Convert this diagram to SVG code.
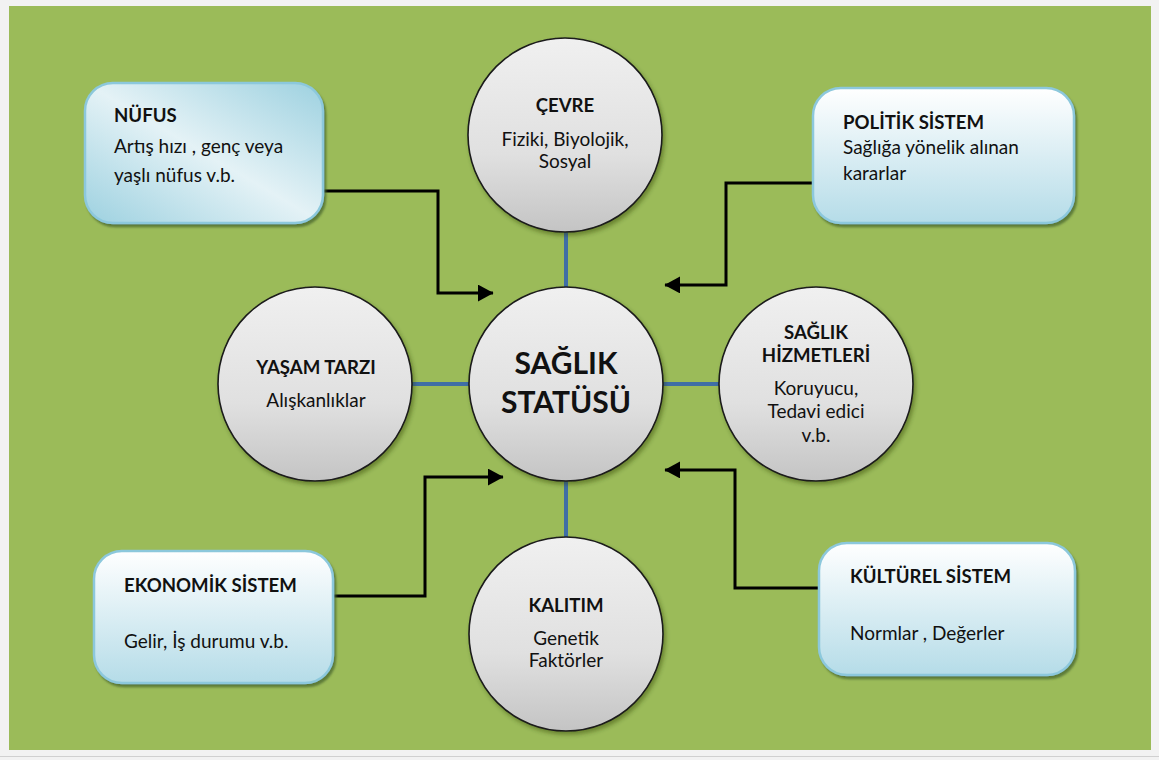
<svg xmlns="http://www.w3.org/2000/svg" width="1159" height="760" viewBox="0 0 1159 760">
<style>
.t{font-family:Lato,"Open Sans","Liberation Sans",sans-serif;font-size:19px;fill:#111}
.b{font-weight:bold;font-size:18.6px}
.c{text-anchor:middle}
.big{font-size:30px;font-weight:bold}
.circ{fill:url(#gc);stroke:#1a1a1a;stroke-width:1.6;filter:url(#sh)}
.box{stroke:#8cc8dc;stroke-width:2.5;filter:url(#bsh)}
.blue{stroke:#3f6ea6;stroke-width:4;fill:none}
.arr{stroke:#000;stroke-width:3;fill:none;marker-end:url(#ah)}
</style>
<defs>
<linearGradient id="gc" x1="0" y1="0" x2="0" y2="1">
<stop offset="0" stop-color="#f0f0f0"/>
<stop offset="0.6" stop-color="#e0e0e0"/>
<stop offset="1" stop-color="#c4c4c4"/>
</linearGradient>
<linearGradient id="gv" x1="0" y1="0" x2="0" y2="1">
<stop offset="0" stop-color="#ffffff"/>
<stop offset="1" stop-color="#b5dce8"/>
</linearGradient>
<linearGradient id="gd" x1="1" y1="0" x2="0" y2="1">
<stop offset="0" stop-color="#9dd1e0"/>
<stop offset="0.5" stop-color="#e4f2f6"/>
<stop offset="1" stop-color="#9dd1e0"/>
</linearGradient>
<filter id="sh" x="-20%" y="-20%" width="140%" height="140%">
<feDropShadow dx="2" dy="3" stdDeviation="2" flood-color="#2f3f10" flood-opacity="0.45"/>
</filter>
<filter id="bsh" x="-10%" y="-10%" width="120%" height="130%">
<feDropShadow dx="2" dy="3" stdDeviation="1" flood-color="#4d6b2e" flood-opacity="0.8"/>
</filter>
<marker id="ah" markerWidth="6" markerHeight="6" refX="5" refY="2.8" orient="auto" markerUnits="strokeWidth">
<path d="M0,0 L5.2,2.8 L0,5.6 Z" fill="#000"/>
</marker>
</defs>
<rect x="0" y="0" width="1159" height="760" fill="#f2f2f2"/>
<rect x="9" y="6" width="1142" height="744" fill="#9bbb59"/>
<line x1="0" y1="756.5" x2="1159" y2="756.5" stroke="#d0d0d0" stroke-width="1"/>

<g id="connectors">
<line class="blue" x1="566" y1="230" x2="566" y2="290"/>
<line class="blue" x1="566" y1="478" x2="566" y2="540"/>
<line class="blue" x1="410" y1="384" x2="472" y2="384"/>
<line class="blue" x1="660" y1="384" x2="722" y2="384"/>
<path class="arr" d="M323,191 H438 V293 H493"/>
<path class="arr" d="M814,183 H726 V285 H665"/>
<path class="arr" d="M332,596 H425 V477 H503"/>
<path class="arr" d="M819,588 H735 V470 H665"/>
</g>

<g id="nufus">
<rect class="box" x="85" y="83" width="238" height="140" rx="28" fill="url(#gd)"/>
<text class="t b" x="114" y="122">NÜFUS</text>
<text class="t" x="114" y="153">Artış hızı , genç veya</text>
<text class="t" x="114" y="182">yaşlı nüfus v.b.</text>
</g>

<g id="politik">
<rect class="box" x="813" y="88" width="261" height="135" rx="28" fill="url(#gv)"/>
<text class="t b" x="843" y="129">POLİTİK SİSTEM</text>
<text class="t" x="843" y="154">Sağlığa yönelik alınan</text>
<text class="t" x="843" y="180">kararlar</text>
</g>

<g id="ekonomik">
<rect class="box" x="94" y="551" width="239" height="132" rx="28" fill="url(#gv)"/>
<text class="t b" x="124" y="592">EKONOMİK SİSTEM</text>
<text class="t" x="124" y="648">Gelir, İş durumu v.b.</text>
</g>

<g id="kulturel">
<rect class="box" x="819" y="543" width="256" height="132" rx="28" fill="url(#gv)"/>
<text class="t b" x="850" y="583">KÜLTÜREL SİSTEM</text>
<text class="t" x="850" y="640">Normlar , Değerler</text>
</g>

<g id="cevre">
<circle class="circ" cx="565" cy="135" r="97"/>
<text class="t b c" x="565" y="112">ÇEVRE</text>
<text class="t c" x="565" y="146">Fiziki, Biyolojik,</text>
<text class="t c" x="565" y="168">Sosyal</text>
</g>

<g id="yasam">
<circle class="circ" cx="315" cy="384" r="97"/>
<text class="t b c" x="316" y="374">YAŞAM TARZI</text>
<text class="t c" x="316" y="407">Alışkanlıklar</text>
</g>

<g id="hizmet">
<circle class="circ" cx="816" cy="384" r="97"/>
<text class="t b c" x="816" y="339">SAĞLIK</text>
<text class="t b c" x="816" y="362">HİZMETLERİ</text>
<text class="t c" x="816" y="395">Koruyucu,</text>
<text class="t c" x="816" y="418">Tedavi edici</text>
<text class="t c" x="816" y="442">v.b.</text>
</g>

<g id="kalitim">
<circle class="circ" cx="566" cy="634" r="97"/>
<text class="t b c" x="566" y="612">KALITIM</text>
<text class="t c" x="566" y="645">Genetik</text>
<text class="t c" x="566" y="667">Faktörler</text>
</g>

<g id="saglik">
<circle class="circ" cx="566" cy="384" r="97"/>
<text class="t big c" x="566" y="374">SAĞLIK</text>
<text class="t big c" x="566" y="413">STATÜSÜ</text>
</g>
</svg>
